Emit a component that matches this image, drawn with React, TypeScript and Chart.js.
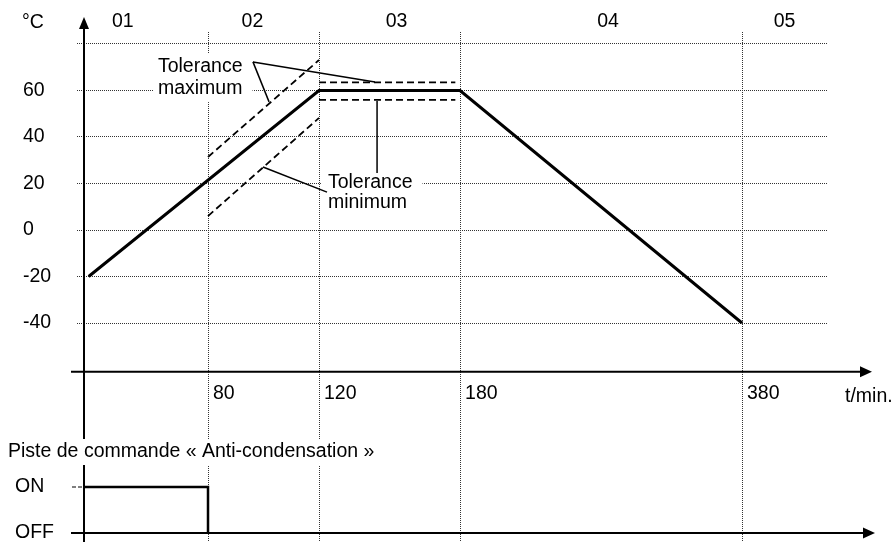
import React, { useEffect, useRef } from 'react';
import { Chart, LinearScale, registerables } from 'chart.js';

Chart.register(...registerables);

// ---------------- data ----------------
const profileTimes = [3, 120, 180, 380];
const profileTemps = [-20, 60, 60, -40];

const tolMaxRampTimes = [80, 120];
const tolMaxRampTemps = [31.4, 73.1];
const tolMinRampTimes = [80, 120];
const tolMinRampTemps = [6, 48.2];

const tolMaxHoldTimes = [120, 178];
const tolMaxHoldTemps = [63.5, 63.5];
const tolMinHoldTimes = [120, 178];
const tolMinHoldTemps = [56, 56];

const antiCondTimes = [0, 80, 80];
const antiCondStates = [1, 1, 0];

const xTickValues = [80, 120, 180, 380];
const yTickValues = [-40, -20, 0, 20, 40, 60, 80];
const yTickLabels = ['-40', '-20', '0', '20', '40', '60', ''];
const segmentLabels = ['01', '02', '03', '04', '05'];
const stateLabels = ['OFF', 'ON'];

// ---------------- non-linear time axis (schematic) ----------------
const X_BREAK_VALUES = [0, 80, 120, 180, 380, 440];
const X_BREAK_FRACTIONS = [0, 0.1669, 0.3163, 0.5061, 0.8856, 1];

class PiecewiseScale extends (LinearScale as any) {
  static id = 'piecewise';
  static defaults = {};
  getPixelForValue(value: number) {
    const v = X_BREAK_VALUES;
    const f = X_BREAK_FRACTIONS;
    let i = 0;
    while (i < v.length - 2 && value > v[i + 1]) i++;
    const t = (value - v[i]) / (v[i + 1] - v[i]);
    const dec = f[i] + t * (f[i + 1] - f[i]);
    return (this as any).getPixelForDecimal(dec);
  }
  getValueForPixel(pixel: number) {
    const dec = (this as any).getDecimalForPixel(pixel);
    const v = X_BREAK_VALUES;
    const f = X_BREAK_FRACTIONS;
    let i = 0;
    while (i < f.length - 2 && dec > f[i + 1]) i++;
    const t = (dec - f[i]) / (f[i + 1] - f[i]);
    return v[i] + t * (v[i + 1] - v[i]);
  }
}
Chart.register(PiecewiseScale as any);

const FONT_FAMILY = '"Liberation Sans", Arial, Helvetica, sans-serif';
const FONT_SIZE = 19.5;
const FONT = `${FONT_SIZE}px ${FONT_FAMILY}`;
const GRID_COLOR = '#333';

const toPts = (xs: number[], ys: number[]) => xs.map((x, i) => ({ x, y: ys[i] }));

const lineBase = {
  borderColor: '#000',
  pointRadius: 0,
  tension: 0,
  fill: false,
  borderJoinStyle: 'miter' as const,
  xAxisID: 'x',
};

const decorPlugin = {
  id: 'decor',
  afterDatasetsDraw(chart: any) {
    const ctx: CanvasRenderingContext2D = chart.ctx;
    const xs = chart.scales.x;
    const ys = chart.scales.y;
    const y2 = chart.scales.y2;
    const area = chart.chartArea;
    const P = (t: number) => xs.getPixelForValue(t);
    const Q = (T: number) => ys.getPixelForValue(T);

    const line = (x1: number, y1: number, x2: number, y2p: number) => {
      ctx.beginPath();
      ctx.moveTo(x1, y1);
      ctx.lineTo(x2, y2p);
      ctx.stroke();
    };
    const tri = (pts: number[][]) => {
      ctx.beginPath();
      ctx.moveTo(pts[0][0], pts[0][1]);
      ctx.lineTo(pts[1][0], pts[1][1]);
      ctx.lineTo(pts[2][0], pts[2][1]);
      ctx.closePath();
      ctx.fill();
    };

    ctx.save();
    ctx.strokeStyle = '#000';
    ctx.fillStyle = '#000';
    ctx.lineWidth = 2;
    ctx.setLineDash([]);

    // vertical temperature axis with arrow
    const ax = P(0);
    line(ax, area.bottom, ax, 27);
    tri([[ax, 17], [ax - 5, 29], [ax + 5, 29]]);

    // time axis (top panel)
    const axY = Q(-61);
    const tip = area.right + 45;
    line(ax - 13, axY, tip - 10, axY);
    tri([[tip, axY], [tip - 12, axY - 5.5], [tip - 12, axY + 5.5]]);

    // time axis (bottom panel, OFF level)
    const offY = y2.getPixelForValue(0);
    const onY = y2.getPixelForValue(1);
    const tip2 = area.right + 48;
    line(ax - 13, offY, tip2 - 10, offY);
    tri([[tip2, offY], [tip2 - 12, offY - 5.5], [tip2 - 12, offY + 5.5]]);

    // ON tick
    ctx.lineWidth = 1.2;
    ctx.setLineDash([4, 2]);
    line(ax - 12, onY, ax, onY);
    ctx.setLineDash([]);

    ctx.font = FONT;
    ctx.textBaseline = 'middle';

    // tick labels on time axis
    ctx.textAlign = 'left';
    xTickValues.forEach((v) => ctx.fillText(String(v), P(v) + 5, axY + 22));
    ctx.fillText('t/min.', area.right + 18, axY + 25);

    // segment numbers
    ctx.textAlign = 'center';
    const segAt = [25, 96, 153, 285, 410];
    segmentLabels.forEach((s, i) => ctx.fillText(s, P(segAt[i]), 22));

    // unit
    ctx.textAlign = 'left';
    ctx.fillText('°C', ys.left - 1, 23);

    // boxed text helper
    const boxText = (lines: string[], x: number, ys2: number[], padL: number, padR: number) => {
      const w = Math.max(...lines.map((l) => ctx.measureText(l).width));
      ctx.fillStyle = '#fff';
      ctx.fillRect(x - padL, ys2[0] - 13, w + padL + padR, ys2[ys2.length - 1] - ys2[0] + 26);
      ctx.fillStyle = '#000';
      lines.forEach((l, i) => ctx.fillText(l, x, ys2[i]));
    };

    // Tolerance maximum annotation
    boxText(['Tolerance', 'maximum'], P(47.7), [Q(70.1), Q(60.6)], 4, 10);
    ctx.lineWidth = 1.5;
    line(P(96.2), Q(72.3), P(143.8), Q(63.7));
    line(P(96.2), Q(72.3), P(102), Q(55.1));

    // Tolerance minimum annotation
    boxText(['Tolerance', 'minimum'], P(123.8), [Q(20.2), Q(11.6)], 7, 10);
    ctx.lineWidth = 1.5;
    line(P(123.4), Q(16.3), P(99.8), Q(27.1));
    line(P(144.7), Q(55.5), P(144.7), Q(24.5));

    // bottom panel title and state labels
    boxText(['Piste de commande « Anti-condensation »'], 8, [452], 8, 6);
    ctx.fillText(stateLabels[1], 15, onY);
    ctx.fillText(stateLabels[0], 15, offY);

    ctx.restore();
  },
};

export default function App() {
  const ref = useRef<HTMLCanvasElement>(null);

  useEffect(() => {
    const canvas = ref.current;
    if (!canvas) return;
    const chart = new Chart(canvas, {
      type: 'line',
      data: {
        datasets: [
          { ...lineBase, data: toPts(profileTimes, profileTemps), borderWidth: 3, yAxisID: 'y' },
          { ...lineBase, data: toPts(tolMaxRampTimes, tolMaxRampTemps), borderWidth: 1.8, borderDash: [7, 4], yAxisID: 'y' },
          { ...lineBase, data: toPts(tolMinRampTimes, tolMinRampTemps), borderWidth: 1.8, borderDash: [7, 4], yAxisID: 'y' },
          { ...lineBase, data: toPts(tolMaxHoldTimes, tolMaxHoldTemps), borderWidth: 1.8, borderDash: [7, 4], yAxisID: 'y' },
          { ...lineBase, data: toPts(tolMinHoldTimes, tolMinHoldTemps), borderWidth: 1.8, borderDash: [7, 4], yAxisID: 'y' },
          { ...lineBase, data: toPts(antiCondTimes, antiCondStates), borderWidth: 2.5, yAxisID: 'y2' },
        ] as any,
      },
      options: {
        animation: false,
        responsive: false,
        events: [],
        layout: { padding: { left: 23, top: 32, right: 64, bottom: 0 } },
        plugins: {
          legend: { display: false },
          tooltip: { enabled: false },
        },
        scales: {
          x: {
            type: 'piecewise' as any,
            min: 0,
            max: 440,
            afterBuildTicks: (s: any) => {
              s.ticks = xTickValues.map((v) => ({ value: v }));
            },
            afterFit: (s: any) => {
              s.height = 0;
              s.paddingLeft = 0;
              s.paddingRight = 0;
            },
            ticks: { display: false },
            grid: { color: GRID_COLOR, lineWidth: 1, drawTicks: false, borderDash: [1, 1] } as any,
            border: { display: false, dash: [1, 1] },
          },
          y: {
            type: 'linear',
            position: 'left',
            min: -134.19,
            max: 85.16,
            afterBuildTicks: (s: any) => {
              s.ticks = yTickValues.map((v) => ({ value: v }));
            },
            afterFit: (s: any) => {
              s.width = 61;
              s.paddingTop = 0;
              s.paddingBottom = 0;
            },
            ticks: {
              autoSkip: false,
              crossAlign: 'far',
              padding: 0,
              color: '#000',
              font: { family: FONT_FAMILY, size: FONT_SIZE },
              callback: (v: any) => {
                const i = yTickValues.indexOf(Number(v));
                return i >= 0 ? yTickLabels[i] : '';
              },
            },
            grid: {
              color: GRID_COLOR,
              lineWidth: 1,
              drawTicks: true,
              tickLength: 7,
              borderDash: [1, 1],
              tickBorderDash: [1, 1],
              tickColor: GRID_COLOR,
            } as any,
            border: { display: false, dash: [1, 1] },
          },
          y2: {
            type: 'linear',
            display: false,
            min: -0.196,
            max: 10.891,
          },
        },
      } as any,
      plugins: [decorPlugin],
    });
    return () => chart.destroy();
  }, []);

  return (
    <div style={{ position: 'absolute', left: 0, top: 0, width: 891, height: 542, background: '#fff' }}>
      <canvas ref={ref} width={891} height={542} style={{ display: 'block', width: 891, height: 542 }} />
    </div>
  );
}
